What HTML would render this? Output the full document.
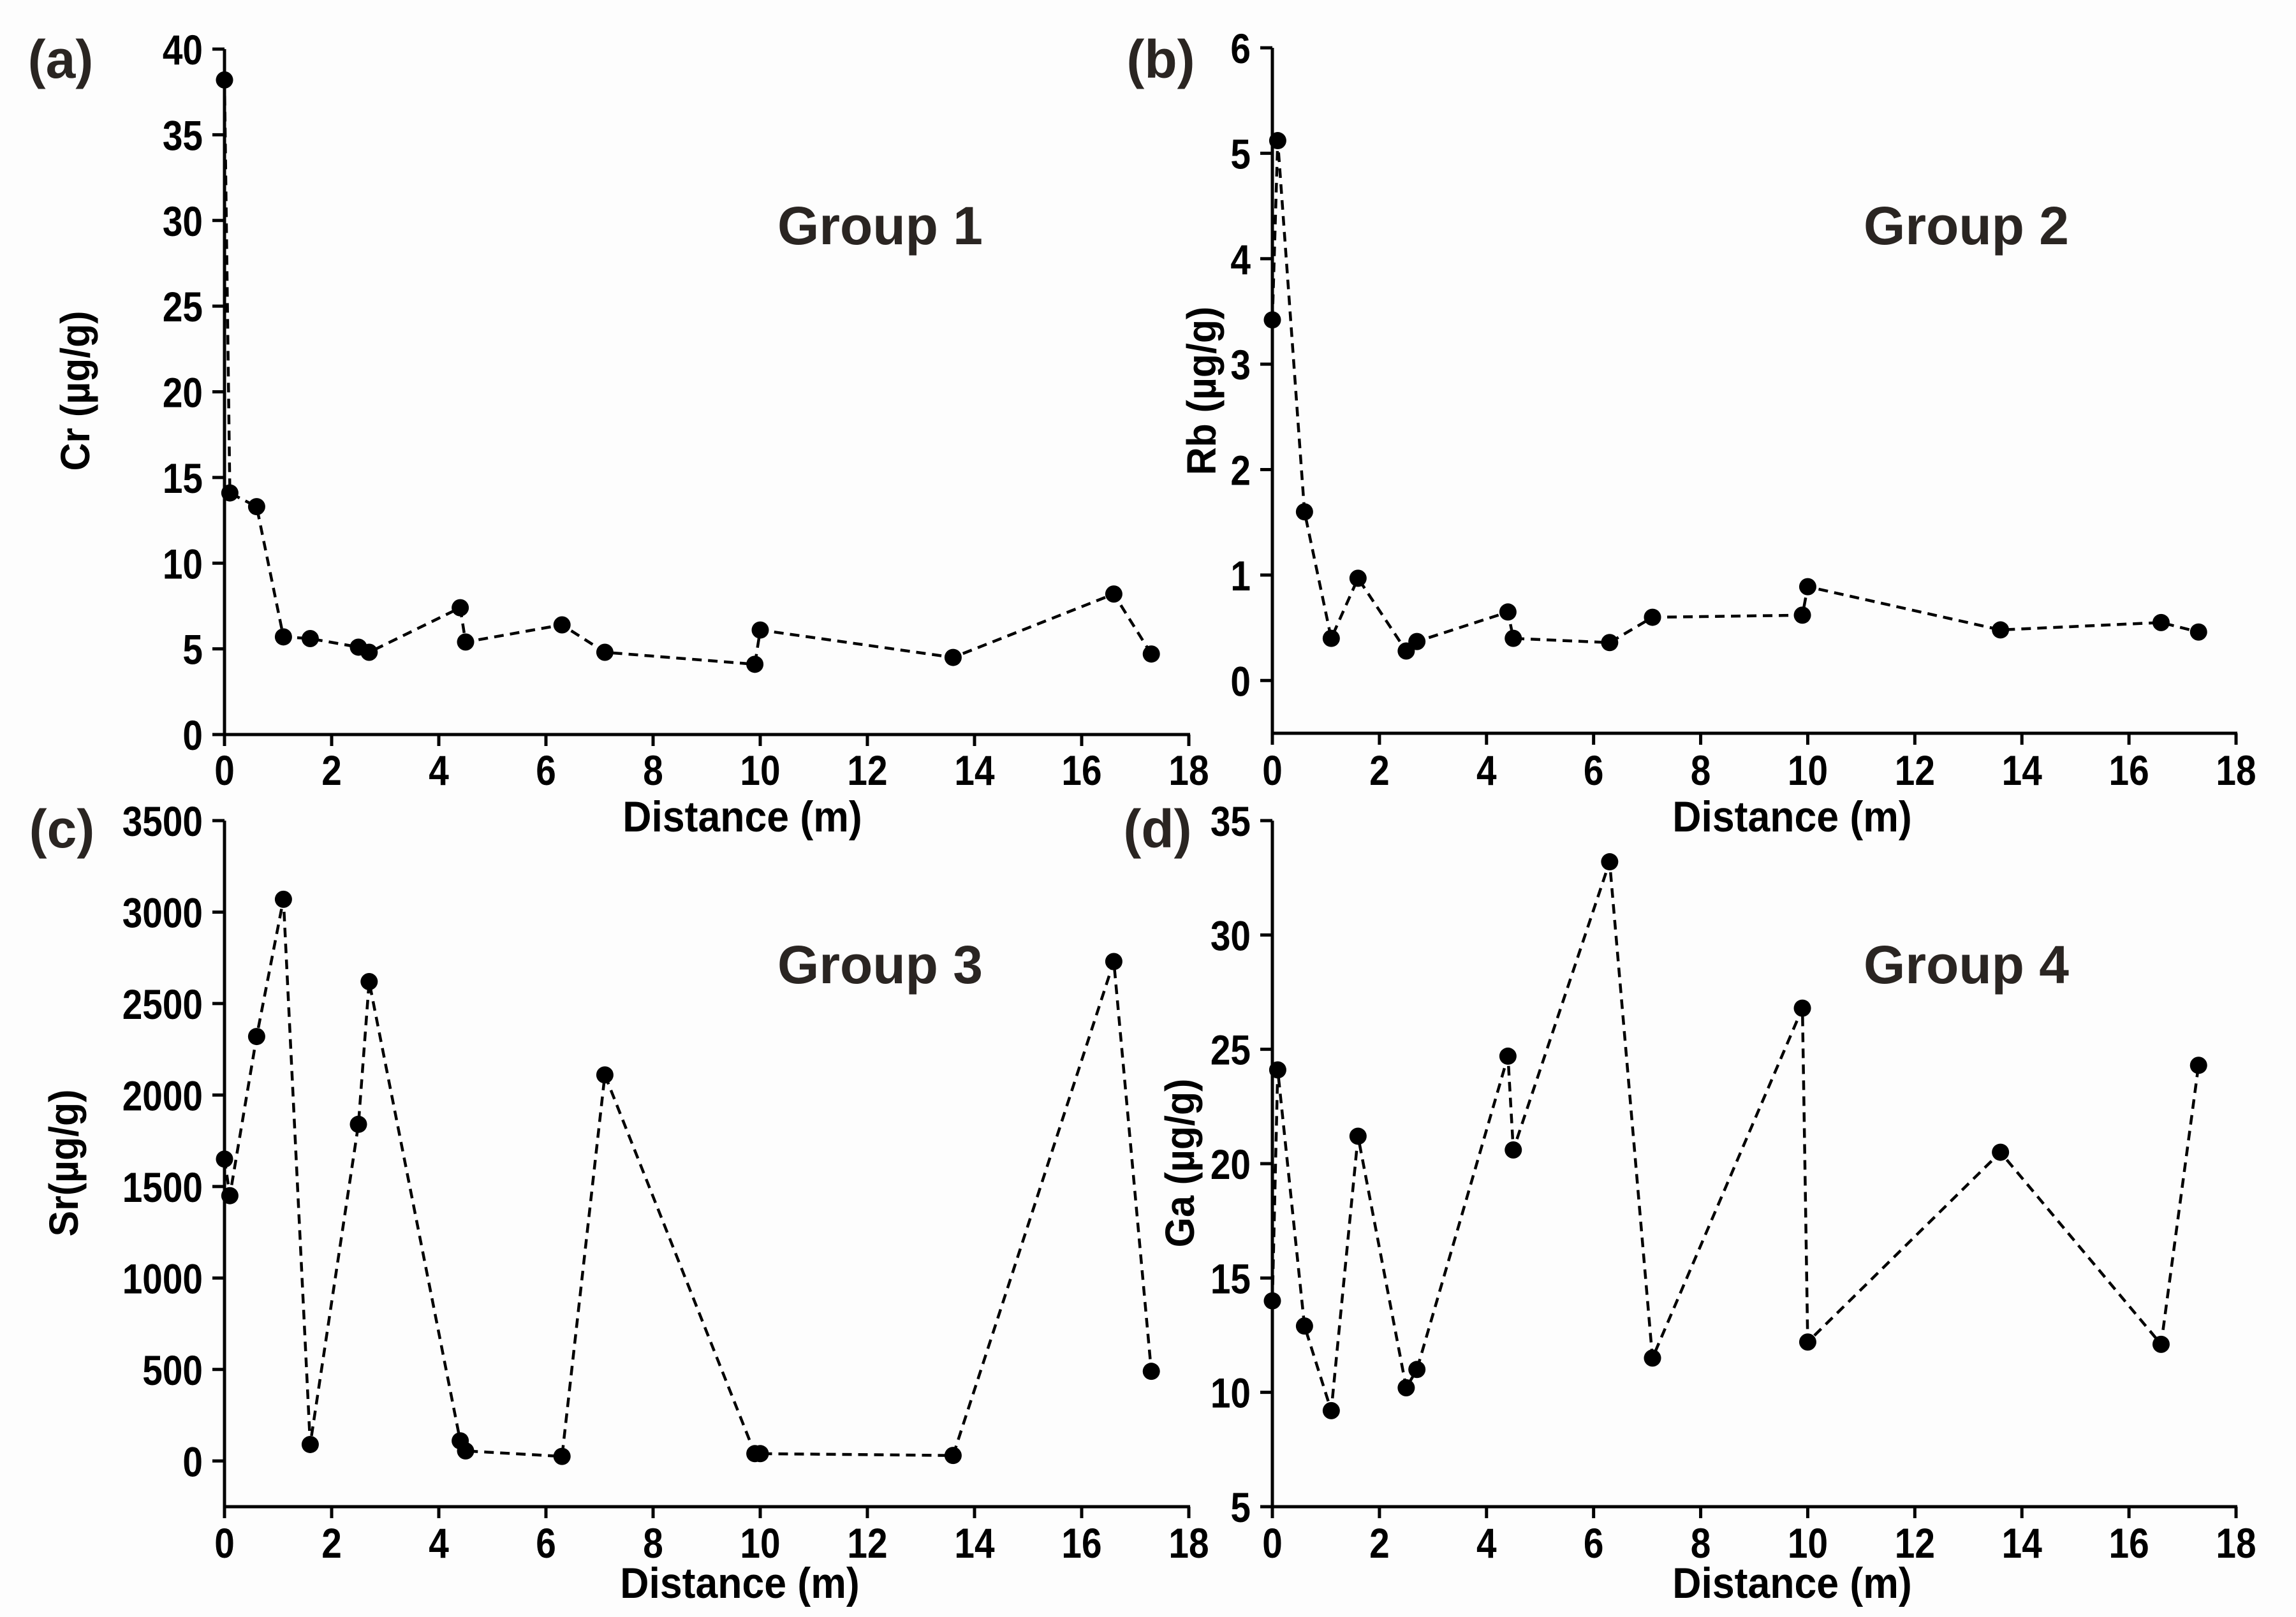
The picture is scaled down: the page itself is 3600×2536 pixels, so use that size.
<!DOCTYPE html>
<html><head><meta charset="utf-8"><style>
html,body{margin:0;padding:0;background:#fdfdfd;}
svg{display:block;font-family:"Liberation Sans",Arial,sans-serif;}
</style></head><body>
<svg id="fig" width="3600" height="2536" viewBox="0 0 3600 2536" xmlns="http://www.w3.org/2000/svg">
<rect x="0" y="0" width="3600" height="2536" fill="#fdfdfd"/>
</svg>
<script>
const distances = [0, 0.1, 0.6, 1.1, 1.6, 2.5, 2.7, 4.4, 4.5, 6.3, 7.1, 9.9, 10, 13.6, 16.6, 17.3];
const crValues = [38.2, 14.1, 13.3, 5.7, 5.6, 5.1, 4.8, 7.4, 5.4, 6.4, 4.8, 4.1, 6.1, 4.5, 8.2, 4.7];
const rbValues = [3.42, 5.12, 1.6, 0.4, 0.97, 0.28, 0.37, 0.65, 0.4, 0.36, 0.6, 0.62, 0.89, 0.48, 0.55, 0.46];
const srValues = [1650, 1450, 2320, 3070, 90, 1840, 2620, 110, 55, 25, 2110, 40, 40, 30, 2730, 490];
const gaValues = [14.0, 24.1, 12.9, 9.2, 21.2, 10.2, 11.0, 24.7, 20.6, 33.2, 11.5, 26.8, 12.2, 20.5, 12.1, 24.3];
const xTicks = [0, 2, 4, 6, 8, 10, 12, 14, 16, 18];
const crTicks = [0, 5, 10, 15, 20, 25, 30, 35, 40];
const rbTicks = [0, 1, 2, 3, 4, 5, 6];
const srTicks = [0, 500, 1000, 1500, 2000, 2500, 3000, 3500];
const gaTicks = [5, 10, 15, 20, 25, 30, 35];

const NS = "http://www.w3.org/2000/svg";
const svg = document.getElementById("fig");
function mk(tag, attrs, parent) {
  const e = document.createElementNS(NS, tag);
  for (const k in attrs) e.setAttribute(k, attrs[k]);
  (parent || svg).appendChild(e);
  return e;
}

const panels = [
  {id:"a", L:352, R:1864, T:77, B:1152, ymin:0, ymax:40, axisY:1152, ticks:crTicks, vals:crValues,
   title:"Cr (µg/g)", tx:118, ty:613, group:"Group 1", gx:1380, gy:353, lx:95, ly:92, dx:1164, dy:1280, tly:1207},
  {id:"b", L:1995, R:3506, T:75, B:1150, ymin:-0.5, ymax:6, axisY:1150, ticks:rbTicks, vals:rbValues,
   title:"Rb (µg/g)", tx:1884, ty:613, group:"Group 2", gx:3083, gy:353, lx:1820, ly:92, dx:2810, dy:1280, tly:1207},
  {id:"c", L:352, R:1864, T:1287, B:2363, ymin:-250, ymax:3500, axisY:2363, ticks:srTicks, vals:srValues,
   title:"Sr(µg/g)", tx:100, ty:1824, group:"Group 3", gx:1380, gy:1512, lx:97, ly:1299, dx:1160, dy:2482, tly:2419},
  {id:"d", L:1995, R:3506, T:1287, B:2363, ymin:5, ymax:35, axisY:2363, ticks:gaTicks, vals:gaValues,
   title:"Ga (µg/g)", tx:1850, ty:1824, group:"Group 4", gx:3083, gy:1512, lx:1815, ly:1299, dx:2810, dy:2482, tly:2419}
];

panels.forEach(p => {
  const g = mk("g", {});
  
  
  const xs = v => p.L + (v - 0) / 18 * (p.R - p.L);
  const ys = v => p.B - (v - p.ymin) / (p.ymax - p.ymin) * (p.B - p.T);

  const yax = mk("line", {x1:p.L, y1:p.T, x2:p.L, y2:p.B+2, stroke:"#000", "stroke-width":5}, g);
  
  
  const xax = mk("line", {x1:p.L-2, y1:p.axisY, x2:p.R+2, y2:p.axisY, stroke:"#000", "stroke-width":5}, g);
  
  

  xTicks.forEach(t => {
    const x = xs(t);
    const tk = mk("line", {x1:x, y1:p.axisY, x2:x, y2:p.axisY+18, stroke:"#000", "stroke-width":5}, g);
    
    
    const tl = mk("text", {x:0, y:0, "font-size":66, "font-weight":"bold", "text-anchor":"middle", fill:"#000",
      transform:"translate(" + x + "," + (p.tly+24) + ") scale(0.86,1)"}, g);
    tl.textContent = t;
    
    
  });
  p.ticks.forEach(t => {
    const y = ys(t);
    const tk = mk("line", {x1:p.L-19, y1:y, x2:p.L, y2:y, stroke:"#000", "stroke-width":5}, g);
    
    
    const tl = mk("text", {x:0, y:0, "font-size":66, "font-weight":"bold", "text-anchor":"end", fill:"#000",
      transform:"translate(" + (p.L-34) + "," + (y+24) + ") scale(0.86,1)"}, g);
    tl.textContent = t;
    
    
  });

  const pts = distances.map((d, i) => xs(d).toFixed(1) + "," + ys(p.vals[i]).toFixed(1)).join(" ");
  const pl = mk("polyline", {points:pts, fill:"none", stroke:"#000", "stroke-width":4.5, "stroke-dasharray":"15 10"}, g);
  
  
  distances.forEach((d, i) => {
    const c = mk("circle", {cx:xs(d), cy:ys(p.vals[i]), r:13.5, fill:"#000"}, g);
    
    
  });

  const at = mk("text", {x:0, y:0, "font-size":64, "font-weight":"bold", "text-anchor":"middle", fill:"#000",
    transform:"translate(" + (p.tx + 22) + "," + p.ty + ") rotate(-90) scale(0.95,1)"}, g);
  at.textContent = p.title;
  
  
  const dt = mk("text", {x:0, y:0, "font-size":68, "font-weight":"bold", "text-anchor":"middle", fill:"#000",
    transform:"translate(" + p.dx + "," + (p.dy+24) + ") scale(0.92,1)"}, g);
  dt.textContent = "Distance (m)";
  
  
  const gt = mk("text", {x:p.gx, y:p.gy+30, "font-size":84, "font-weight":"bold", "text-anchor":"middle", fill:"#2a2522"}, g);
  gt.textContent = p.group;
  
  
  const pt = mk("text", {x:p.lx, y:p.ly+30, "font-size":84, "font-weight":"bold", "text-anchor":"middle", fill:"#2a2522"}, g);
  pt.textContent = "(" + p.id + ")";
  
  
});
</script>
</body></html>
